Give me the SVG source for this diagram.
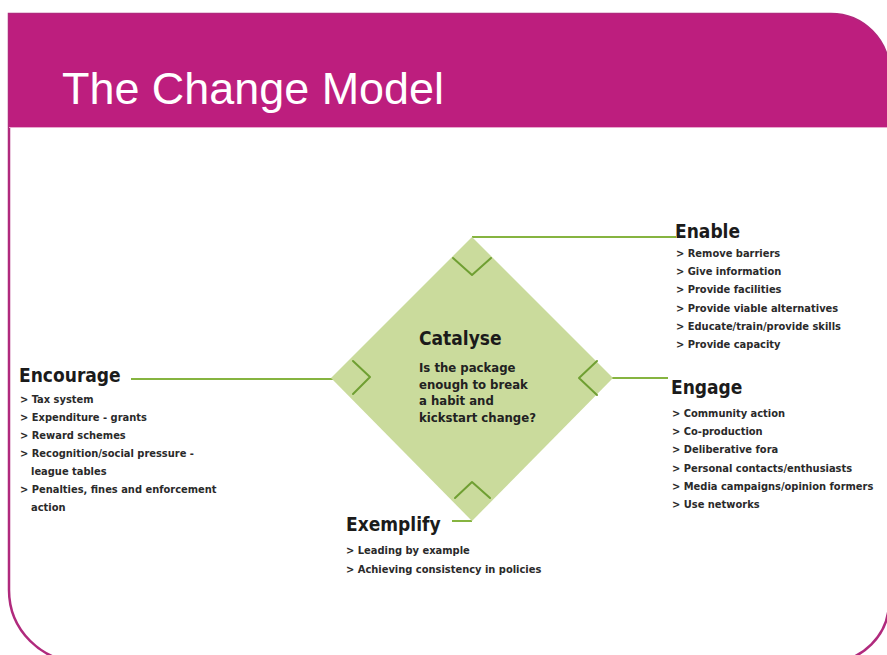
<svg xmlns="http://www.w3.org/2000/svg" width="887" height="655" viewBox="0 0 887 655">
  <defs>
    <style>
      .head { font-family: "DejaVu Sans Condensed", "DejaVu Sans", sans-serif; font-stretch: condensed; font-weight: bold; font-size: 19px; fill: #1b1b1b; }
      .item { font-family: "DejaVu Sans Condensed", "DejaVu Sans", sans-serif; font-stretch: condensed; font-weight: bold; font-size: 11px; fill: #2a2a2a; }
      .body { font-family: "DejaVu Sans Condensed", "DejaVu Sans", sans-serif; font-stretch: condensed; font-weight: bold; font-size: 13px; fill: #222; }
      .link { stroke: #86b440; stroke-width: 2; fill: none; }
      .chev { stroke: #6f9f32; stroke-width: 2; fill: none; stroke-linecap: round; stroke-linejoin: round; }
    </style>
  </defs>

  <rect width="887" height="655" fill="#ffffff"/>

  <!-- slide frame and magenta title band -->
  <g id="frame">
    <path d="M9 14 H831 A58 58 0 0 1 889 72 V602 A60 60 0 0 1 829 662 H81 A72 72 0 0 1 9 590 Z" fill="none" stroke="#b02a7d" stroke-width="2.5"/>
    <path d="M9 14 H831 A58 58 0 0 1 889 72 V127 H9 Z" fill="#bd1e7e"/>
    <line x1="9" y1="127.5" x2="887" y2="127.5" stroke="#e9a9cf" stroke-width="1"/>
    <text x="62" y="104" font-family="Liberation Sans, Arial, sans-serif" font-size="44" fill="#ffffff" textLength="382" lengthAdjust="spacingAndGlyphs">The Change Model</text>
  </g>

  <!-- connectors from the diamond to each label -->
  <g id="connectors">
    <line class="link" x1="472" y1="237" x2="676" y2="237"/>
    <line class="link" x1="131" y1="379" x2="333" y2="379"/>
    <line class="link" x1="611" y1="378" x2="668" y2="378"/>
    <line class="link" x1="452" y1="521" x2="472" y2="521"/>
  </g>

  <!-- central diamond -->
  <g id="catalyse">
    <polygon points="472,237 613,378 472,521 331,378" fill="#cadb9c"/>
    <polyline class="chev" points="453,258 472,275 491,258"/>
    <polyline class="chev" points="353,361 370,377 353,394"/>
    <polyline class="chev" points="597,361 579,378 597,395"/>
    <polyline class="chev" points="455,498 472,482 490,498"/>
    <text class="head" x="419" y="345">Catalyse</text>
    <text class="body" x="419" y="372">Is the package</text>
    <text class="body" x="419" y="388.5">enough to break</text>
    <text class="body" x="419" y="405">a habit and</text>
    <text class="body" x="419" y="421.5">kickstart change?</text>
  </g>

  <g id="enable">
    <text class="head" x="675" y="238">Enable</text>
    <text class="item" x="676" y="257">&gt; Remove barriers</text>
    <text class="item" x="676" y="275">&gt; Give information</text>
    <text class="item" x="676" y="293">&gt; Provide facilities</text>
    <text class="item" x="676" y="311.5">&gt; Provide viable alternatives</text>
    <text class="item" x="676" y="329.5">&gt; Educate/train/provide skills</text>
    <text class="item" x="676" y="347.5">&gt; Provide capacity</text>
  </g>

  <g id="engage">
    <text class="head" x="671" y="394">Engage</text>
    <text class="item" x="672" y="417">&gt; Community action</text>
    <text class="item" x="672" y="435">&gt; Co-production</text>
    <text class="item" x="672" y="453">&gt; Deliberative fora</text>
    <text class="item" x="672" y="471.5">&gt; Personal contacts/enthusiasts</text>
    <text class="item" x="672" y="489.5">&gt; Media campaigns/opinion formers</text>
    <text class="item" x="672" y="507.5">&gt; Use networks</text>
  </g>

  <g id="encourage">
    <text class="head" x="19" y="382">Encourage</text>
    <text class="item" x="20" y="403">&gt; Tax system</text>
    <text class="item" x="20" y="421">&gt; Expenditure - grants</text>
    <text class="item" x="20" y="439">&gt; Reward schemes</text>
    <text class="item" x="20" y="457">&gt; Recognition/social pressure -</text>
    <text class="item" x="31" y="475">league tables</text>
    <text class="item" x="20" y="493">&gt; Penalties, fines and enforcement</text>
    <text class="item" x="31" y="511">action</text>
  </g>

  <g id="exemplify">
    <text class="head" x="346" y="531">Exemplify</text>
    <text class="item" x="346" y="554">&gt; Leading by example</text>
    <text class="item" x="346" y="573">&gt; Achieving consistency in policies</text>
  </g>
</svg>
